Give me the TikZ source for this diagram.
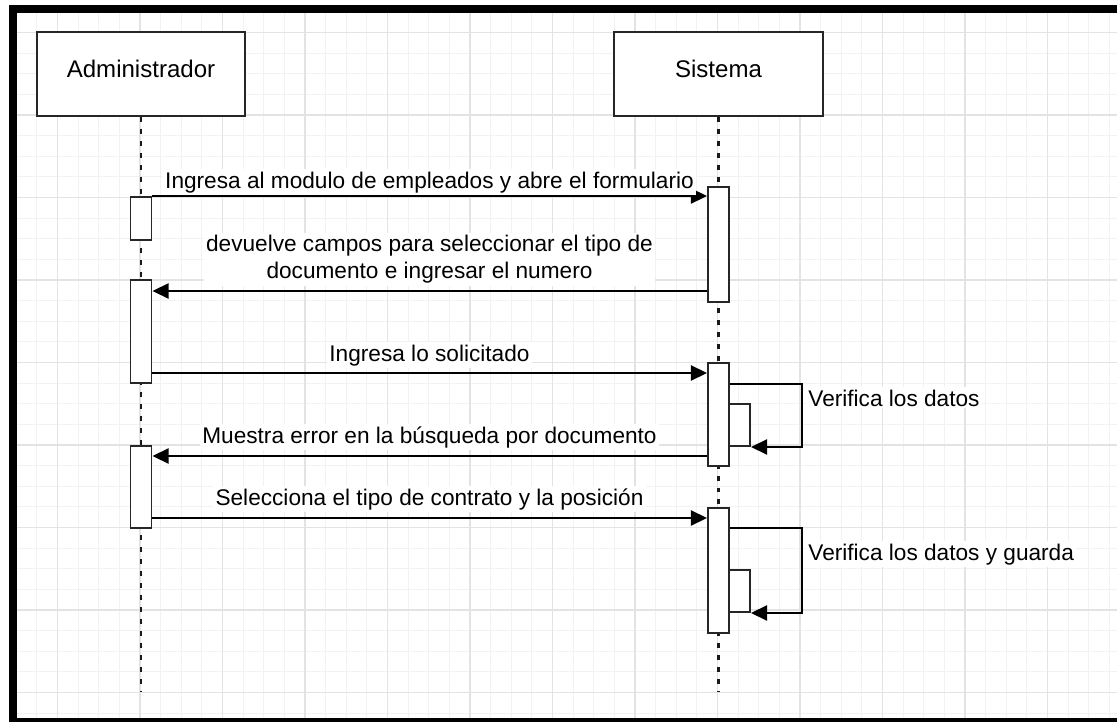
\documentclass[tikz,border=0pt]{standalone}
\usepackage{fontspec}
\setmainfont{Liberation Sans}
\usetikzlibrary{arrows.meta}
\usetikzlibrary{positioning}
\definecolor{minorline}{HTML}{F2F2F2}
\definecolor{majorline}{HTML}{E3E3E3}
\tikzset{
    participant/.style={
        draw=black!85,
        line width=1.4pt,
        fill=white,
        minimum width=5.2cm,
        minimum height=2.1cm,
        font=\fontsize{17.1pt}{20pt}\selectfont,
        text height=0.75em,
        text depth=0.25em
    },
    lifeline/.style={
        draw=black!90,
        line width=1.6pt,
        dash pattern=on 3.5pt off 5pt
    },
    activation/.style={
        draw=black!85,
        line width=1.4pt,
        fill=white,
        minimum width=0.525cm,
        inner sep=0pt
    },
    message/.style={
        draw=black,
        line width=1.4pt,
        -{Triangle[length=11.4pt, width=10.7pt]}
    },
    msglabel/.style={
        fill=white,
        inner sep=1.5pt,
        font=\fontsize{16.1pt}{19.2pt}\selectfont,
        align=center
    },
    minorgrid/.style={draw=minorline, line width=0.7pt},
    majorgrid/.style={draw=majorline, line width=0.9pt}
}

\begin{document}
\begin{tikzpicture}[x=0.025cm, y=-0.025cm]
    \useasboundingbox (0,0) rectangle (1117,722);
    \fill[white] (0,0) rectangle (1117,722);
    \foreach \k in {-5,...,47}
        \draw[minorgrid] ({140+20.625*\k},13) -- ({140+20.625*\k},718);
    \foreach \k in {-4,...,29}
        \draw[minorgrid] (17,{115+20.625*\k}) -- (1117,{115+20.625*\k});
    \foreach \k in {-1,...,11}
        \draw[majorgrid] ({140+82.5*\k},13) -- ({140+82.5*\k},718);
    \foreach \k in {-1,...,7}
        \draw[majorgrid] (17,{115+82.5*\k}) -- (1117,{115+82.5*\k});
    \fill[black] (9,5) rectangle (17,722);
    \fill[black] (9,5) rectangle (1117,13);
    \fill[black] (9,718) rectangle (1117,722);

    \node[participant] (admin) at (141,74) {Administrador};
    \node[participant] (sistema) at (718.5,74) {Sistema};
    \coordinate (fin) at (0,691);
    \draw[lifeline] (admin.south) -- (admin.south |- fin);
    \draw[lifeline] (sistema.south) -- (sistema.south |- fin);

    \node[activation, minimum height=1.075cm] (a1) at (141,218.5) {};
    \node[activation, minimum height=2.575cm] (a2) at (141,331.5) {};
    \node[activation, minimum height=2.05cm] (a3) at (141,487) {};
    \node[activation, minimum height=2.875cm] (s1) at (718.5,244.5) {};
    \node[activation, minimum height=2.575cm] (s2) at (718.5,414.5) {};
    \node[activation, minimum height=3.125cm] (s3) at (718.5,570.5) {};
    \node[activation, minimum height=1.05cm] (n1) at (739.5,425) {};
    \node[activation, minimum height=1.05cm] (n2) at (739.5,591) {};

    \coordinate (m2) at (0,291);
    \coordinate (m3) at (0,373);
    \coordinate (m4) at (0,456);
    \coordinate (m5) at (0,518);
    \coordinate (r1) at (802,384);
    \coordinate (r2) at (802,528);

    \draw[message] (a1.north east) -- (a1.north east -| s1.west);
    \draw[message] (s1.west |- m2) -- (a2.east |- m2);
    \draw[message] (a2.east |- m3) -- (s2.west |- m3);
    \draw[message] (s2.west |- m4) -- (a3.east |- m4);
    \draw[message] (a3.east |- m5) -- (s3.west |- m5);
    \draw[message] (s2.east |- r1) -- (r1) |- (n1.south east);
    \draw[message] (s3.east |- r2) -- (r2) |- (n2.south east);

    \node[msglabel, anchor=base] (l1) at (429.5,188) {Ingresa al modulo de empleados y abre el formulario};
    \node[msglabel, anchor=center] (l2) at (429.5,259.5) {devuelve campos para seleccionar el tipo de\\documento e ingresar el numero};
    \node[msglabel, anchor=base] (l3) at (429.5,361) {Ingresa lo solicitado};
    \node[msglabel, anchor=base] (l4) at (429.5,443) {Muestra error en la búsqueda por documento};
    \node[msglabel, anchor=base] (l5) at (429.5,505) {Selecciona el tipo de contrato y la posición};
    \node[msglabel, anchor=base west] (v1) at (806,406) {Verifica los datos};
    \node[msglabel, anchor=base west] (v2) at (806,560) {Verifica los datos y guarda};
\end{tikzpicture}
\end{document}
